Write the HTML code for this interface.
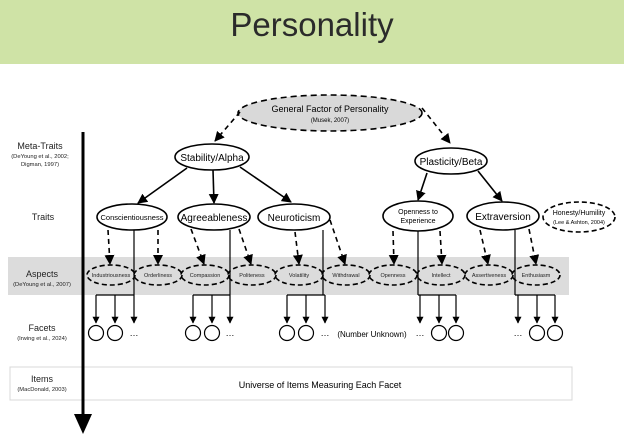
<!DOCTYPE html>
<html><head><meta charset="utf-8"><style>
html,body{margin:0;padding:0;background:#fff;}
svg{display:block;font-family:"Liberation Sans",Arial,sans-serif;}
</style></head><body>
<svg width="624" height="439" viewBox="0 0 624 439" xmlns="http://www.w3.org/2000/svg">
<defs>
<marker id="ah" viewBox="0 0 10 10" refX="9" refY="5" markerWidth="7" markerHeight="7" markerUnits="userSpaceOnUse" orient="auto"><path d="M0,0 L10,5 L0,10 z" fill="#000"/></marker>
<marker id="ah2" viewBox="0 0 10 10" refX="9" refY="5" markerWidth="10" markerHeight="10" markerUnits="userSpaceOnUse" orient="auto"><path d="M0,0 L10,5 L0,10 z" fill="#000"/></marker>
</defs>
<rect x="0" y="0" width="624" height="64" fill="#cfe3a6"/>
<text x="312" y="36" font-size="33" text-anchor="middle" fill="#2b2b2b">Personality</text>

<rect x="8" y="257" width="561" height="38" fill="#dcdcdc"/>
<rect x="10" y="367" width="562" height="33" fill="#fff" stroke="#d8d8d8"/>
<text x="320" y="388" font-size="9" text-anchor="middle">Universe of Items Measuring Each Facet</text>

<!-- left labels -->
<g text-anchor="middle" fill="#222">
<text x="40" y="149" font-size="9">Meta-Traits</text>
<text x="40" y="158" font-size="5.8">(DeYoung et al., 2002;</text>
<text x="40" y="166" font-size="5.8">Digman, 1997)</text>
<text x="43" y="220" font-size="9">Traits</text>
<text x="42" y="277" font-size="9">Aspects</text>
<text x="42" y="286" font-size="5.8">(DeYoung et al., 2007)</text>
<text x="42" y="331" font-size="9">Facets</text>
<text x="42" y="340" font-size="5.8">(Irwing et al., 2024)</text>
<text x="42" y="382" font-size="9">Items</text>
<text x="42" y="391" font-size="5.8">(MacDonald, 2003)</text>
</g>

<!-- axis -->
<line x1="83" y1="132" x2="83" y2="416" stroke="#000" stroke-width="3"/>
<path d="M74,414 L92,414 L83,434 z" fill="#000"/>

<!-- general factor -->
<ellipse cx="330" cy="113" rx="92" ry="18" fill="#d9d9d9" stroke="#000" stroke-width="1.6" stroke-dasharray="6,4"/>
<text x="330" y="112" font-size="9" text-anchor="middle">General Factor of Personality</text>
<text x="330" y="122" font-size="6" text-anchor="middle">(Musek, 2007)</text>
<g stroke="#000" stroke-width="1.6" stroke-dasharray="5,4" fill="none">
<path d="M240,112 L215,141" marker-end="url(#ah2)"/>
<path d="M422,108 L450,143" marker-end="url(#ah2)"/>
</g>

<!-- meta traits -->
<g fill="#fff" stroke="#000" stroke-width="1.6">
<ellipse cx="212" cy="157" rx="37" ry="13"/>
<ellipse cx="451" cy="161" rx="36" ry="13"/>
<ellipse cx="132" cy="217" rx="35" ry="13"/>
<ellipse cx="214" cy="217" rx="36" ry="13"/>
<ellipse cx="294" cy="217" rx="36" ry="13"/>
<ellipse cx="418" cy="216" rx="35" ry="15"/>
<ellipse cx="503" cy="216" rx="36" ry="14"/>
</g>
<ellipse cx="579" cy="217" rx="36" ry="15" fill="#fff" stroke="#000" stroke-width="1.6" stroke-dasharray="5,3"/>
<g text-anchor="middle" font-size="10">
<text x="212" y="161">Stability/Alpha</text>
<text x="451" y="165">Plasticity/Beta</text>
<text x="132" y="220" font-size="7.5">Conscientiousness</text>
<text x="214" y="221">Agreeableness</text>
<text x="294" y="221">Neuroticism</text>
<text x="418" y="214" font-size="7">Openness to</text>
<text x="418" y="223" font-size="7">Experience</text>
<text x="503" y="220">Extraversion</text>
<text x="579" y="215" font-size="7">Honesty/Humility</text>
<text x="579" y="224" font-size="5.5">(Lee &amp; Ashton, 2004)</text>
</g>

<!-- solid arrows -->
<g stroke="#000" stroke-width="1.6" fill="none">
<path d="M187,168 L138,203" marker-end="url(#ah2)"/>
<path d="M213,170 L214,203" marker-end="url(#ah2)"/>
<path d="M240,167 L291,202" marker-end="url(#ah2)"/>
<path d="M427,173 L418,200" marker-end="url(#ah2)"/>
<path d="M478,171 L502,201" marker-end="url(#ah2)"/>
</g>

<!-- dashed trait->aspect -->
<g stroke="#000" stroke-width="1.6" stroke-dasharray="5,4" fill="none">
<path d="M108,230 L110,264" marker-end="url(#ah2)"/>
<path d="M158,230 L158,264" marker-end="url(#ah2)"/>
<path d="M191,229 L204,264" marker-end="url(#ah2)"/>
<path d="M239,229 L251,264" marker-end="url(#ah2)"/>
<path d="M295,232 L299,264" marker-end="url(#ah2)"/>
<path d="M330,220 L345,264" marker-end="url(#ah2)"/>
<path d="M393,231 L394,264" marker-end="url(#ah2)"/>
<path d="M440,231 L442,264" marker-end="url(#ah2)"/>
<path d="M480,230 L488,264" marker-end="url(#ah2)"/>
<path d="M529,229 L536,264" marker-end="url(#ah2)"/>
</g>

<!-- aspects -->
<g fill="none" stroke="#000" stroke-width="1.6" stroke-dasharray="5,3">
<ellipse cx="111" cy="275" rx="24" ry="10"/>
<ellipse cx="158" cy="275" rx="24" ry="10"/>
<ellipse cx="205" cy="275" rx="24" ry="10"/>
<ellipse cx="252" cy="275" rx="24" ry="10"/>
<ellipse cx="299" cy="275" rx="24" ry="10"/>
<ellipse cx="346" cy="275" rx="24" ry="10"/>
<ellipse cx="393" cy="275" rx="24" ry="10"/>
<ellipse cx="441" cy="275" rx="24" ry="10"/>
<ellipse cx="489" cy="275" rx="24" ry="10"/>
<ellipse cx="536" cy="275" rx="24" ry="10"/>
</g>
<g text-anchor="middle" font-size="5.5" fill="#222">
<text x="111" y="277">Industriousness</text>
<text x="158" y="277">Orderliness</text>
<text x="205" y="277">Compassion</text>
<text x="252" y="277">Politeness</text>
<text x="299" y="277">Volatility</text>
<text x="346" y="277">Withdrawal</text>
<text x="393" y="277">Openness</text>
<text x="441" y="277">Intellect</text>
<text x="489" y="277">Assertiveness</text>
<text x="536" y="277">Enthusiasm</text>
</g>

<!-- trait vertical lines & facet arrows -->
<g stroke="#000" stroke-width="1.2" fill="none">
<line x1="134" y1="230" x2="134" y2="295"/>
<line x1="230" y1="230" x2="230" y2="295"/>
<line x1="323" y1="230" x2="323" y2="295"/>
<line x1="418" y1="231" x2="418" y2="295"/>
<line x1="515" y1="230" x2="515" y2="295"/>
<path d="M96,295 H134 M193,295 H230 M287,295 H325 M418,295 H456 M515,295 H555"/>
<g marker-end="url(#ah)">
<path d="M96,295 V323"/><path d="M115,295 V323"/><path d="M134,295 V323"/>
<path d="M193,295 V323"/><path d="M212,295 V323"/><path d="M230,295 V323"/>
<path d="M287,295 V323"/><path d="M306,295 V323"/><path d="M325,295 V323"/>
<path d="M420,295 V323"/><path d="M439,295 V323"/><path d="M456,295 V323"/>
<path d="M518,295 V323"/><path d="M537,295 V323"/><path d="M555,295 V323"/>
</g>
</g>
<g fill="#fff" stroke="#000" stroke-width="1.2">
<circle cx="96" cy="333" r="7.5"/><circle cx="115" cy="333" r="7.5"/>
<circle cx="193" cy="333" r="7.5"/><circle cx="212" cy="333" r="7.5"/>
<circle cx="287" cy="333" r="7.5"/><circle cx="306" cy="333" r="7.5"/>
<circle cx="439" cy="333" r="7.5"/><circle cx="456" cy="333" r="7.5"/>
<circle cx="537" cy="333" r="7.5"/><circle cx="555" cy="333" r="7.5"/>
</g>
<g font-size="9" text-anchor="middle">
<text x="134" y="336">…</text>
<text x="230" y="336">…</text>
<text x="325" y="336">…</text>
<text x="372" y="337" font-size="8">(Number Unknown)</text>
<text x="420" y="336">…</text>
<text x="518" y="336">…</text>
</g>
</svg>
</body></html>
